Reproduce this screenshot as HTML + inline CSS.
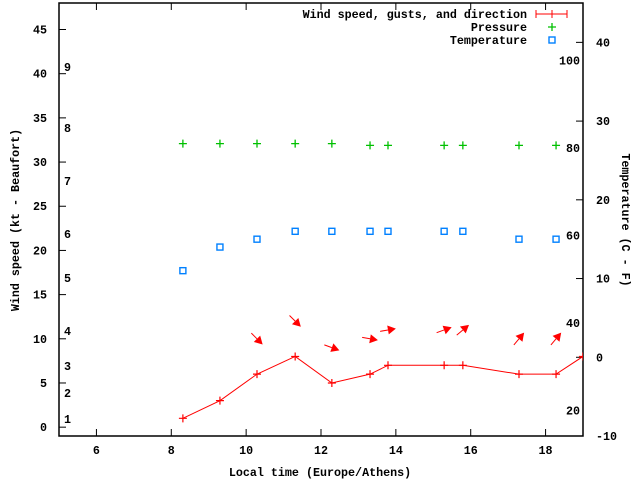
<!DOCTYPE html>
<html><head><meta charset="utf-8"><style>
html,body{margin:0;padding:0;background:#fff}
svg{display:block}
text{font-family:"Liberation Mono",monospace;font-weight:bold;font-size:11.7px;fill:#000}
</style></head><body>
<svg id="chart" width="640" height="480" viewBox="0 0 640 480" xmlns="http://www.w3.org/2000/svg">
<defs><clipPath id="plotclip"><rect x="59" y="3" width="524" height="433"/></clipPath></defs>
<g id="axes"></g>
<g id="marks" clip-path="url(#plotclip)"></g>
<g id="labels"></g>
</svg>
<script>
const hours = [8.31, 9.30, 10.29, 11.31, 12.29, 13.31, 13.79, 15.29, 15.79, 17.29, 18.28, 19.0];
const windSpeed = [1, 3, 6, 8, 5, 6, 7, 7, 7, 6, 6, 8];
const arrowHours = [10.29, 11.31, 12.29, 13.31, 13.79, 15.29, 15.79, 17.29, 18.28];
const gusts = [10, 12, 9, 10, 11, 11, 11, 10, 10];
const windDir = [315, 315, 290, 280, 260, 250, 230, 220, 220];
const pressureHours = [8.31, 9.30, 10.29, 11.31, 12.29, 13.31, 13.79, 15.29, 15.79, 17.29, 18.28];
const pressure = [81, 81, 81, 81, 81, 80.6, 80.6, 80.6, 80.6, 80.6, 80.6];
const temperature = [11, 14, 15, 16, 16, 16, 16, 16, 16, 15, 15];
const xTicks = [6, 8, 10, 12, 14, 16, 18];
const yTicks = [0, 5, 10, 15, 20, 25, 30, 35, 40, 45];
const y2Ticks = [-10, 0, 10, 20, 30, 40];
const beaufortLabels = ["1","2","3","4","5","6","7","8","9"];
const beaufortKt = [0.92, 3.87, 6.92, 10.88, 16.88, 21.86, 27.86, 33.85, 40.76];
const pressureLabels = [20, 40, 60, 80, 100];

const L=59,R=583,T=3,B=436;
const X=h=>L+(h-5)/(19-5)*(R-L);
const Y=v=>B-(v+1)/(48+1)*(B-T);
const Y2=v=>B-(v+10)/(45+10)*(B-T);
const YP=p=>148-(p-80)*4.375;
const NS="http://www.w3.org/2000/svg";
function mk(parent,tag,attrs,txt){const e=document.createElementNS(NS,tag);for(const k in attrs)e.setAttribute(k,attrs[k]);if(txt!==undefined)e.textContent=txt;document.getElementById(parent).appendChild(e);return e;}

let e=mk('axes','rect',{x:L,y:T,width:R-L,height:B-T,fill:'none',stroke:'#000','stroke-width':1.5});


xTicks.forEach(t=>{
  const x=X(t);
  mk('axes','line',{x1:x,y1:B,x2:x,y2:B-7,stroke:'#000','stroke-width':1});
  mk('axes','line',{x1:x,y1:T,x2:x,y2:T+7,stroke:'#000','stroke-width':1});
  e=mk('labels','text',{x:x,y:454,'text-anchor':'middle'},String(t));
  
  
});
yTicks.forEach(t=>{
  const y=Y(t);
  mk('axes','line',{x1:L,y1:y,x2:L+7,y2:y,stroke:'#000','stroke-width':1});
  e=mk('labels','text',{x:47,y:y+4,'text-anchor':'end'},String(t));
  
  
});
y2Ticks.forEach(t=>{
  const y=Y2(t);
  mk('axes','line',{x1:R,y1:y,x2:R-7,y2:y,stroke:'#000','stroke-width':1});
  e=mk('labels','text',{x:596,y:y+4},String(t));
  
  
});
beaufortLabels.forEach((b,i)=>{
  e=mk('labels','text',{x:64,y:Y(beaufortKt[i])+4},b);
  
  
});
pressureLabels.forEach(p=>{
  e=mk('labels','text',{x:580,y:YP(p)+4,'text-anchor':'end'},String(p));
  
  
});
e=mk('labels','text',{x:320,y:476,'text-anchor':'middle'},'Local time (Europe/Athens)');


e=mk('labels','text',{x:0,y:0,'text-anchor':'middle',transform:'translate(19,220) rotate(-90)'},'Wind speed (kt - Beaufort)');


e=mk('labels','text',{x:0,y:0,'text-anchor':'middle',transform:'translate(622,220) rotate(90)'},'Temperature (C - F)');



e=mk('marks','polyline',{points:hours.map((h,i)=>X(h)+','+Y(windSpeed[i])).join(' '),fill:'none',stroke:'#f00','stroke-width':1});


hours.forEach((h,i)=>{
  const x=X(h),y=Y(windSpeed[i]);
  e=mk('marks','path',{d:`M${x-4},${y}H${x+4}M${x},${y-4}V${y+4}`,stroke:'#f00','stroke-width':1.2});
  
  
});
arrowHours.forEach((h,i)=>{
  const cx=X(h),cy=Y(gusts[i]);
  const a=(windDir[i]+180)*Math.PI/180;
  const dx=Math.sin(a),dy=-Math.cos(a),len=16;
  const tx=cx-dx*len/2,ty=cy-dy*len/2,hx=cx+dx*len/2,hy=cy+dy*len/2;
  const px=-dy,py=dx,hl=8,hw=4.5;
  const bx=hx-dx*hl,by=hy-dy*hl;
  e=mk('marks','line',{x1:tx,y1:ty,x2:bx,y2:by,stroke:'#f00','stroke-width':1});
  
  
  e=mk('marks','polygon',{points:`${hx},${hy} ${bx+px*hw},${by+py*hw} ${bx-px*hw},${by-py*hw}`,fill:'#f00'});
  
  
});
pressureHours.forEach((h,i)=>{
  const x=X(h),y=YP(pressure[i]);
  e=mk('marks','path',{d:`M${x-4},${y}H${x+4}M${x},${y-4}V${y+4}`,stroke:'#00c000','stroke-width':1.3});
  
  
});
pressureHours.forEach((h,i)=>{
  const x=X(h),y=Y2(temperature[i]);
  e=mk('marks','rect',{x:x-3,y:y-3,width:6,height:6,fill:'none',stroke:'#0080ff','stroke-width':1.4});
  
  
});
const leg=[['Wind speed, gusts, and direction',14],['Pressure',27],['Temperature',40]];
leg.forEach(([t,y])=>{
  e=mk('labels','text',{x:527,y:y+4,'text-anchor':'end'},t);
  
  
});
e=mk('labels','path',{d:'M536,14H567M536,10V18M567,10V18M552,10V18',stroke:'#f00','stroke-width':1,fill:'none'});


e=mk('labels','path',{d:'M548,27H556M552,23V31',stroke:'#00c000','stroke-width':1.3});


e=mk('labels','rect',{x:549,y:37,width:6,height:6,fill:'none',stroke:'#0080ff','stroke-width':1.4});


</script>
</body></html>
